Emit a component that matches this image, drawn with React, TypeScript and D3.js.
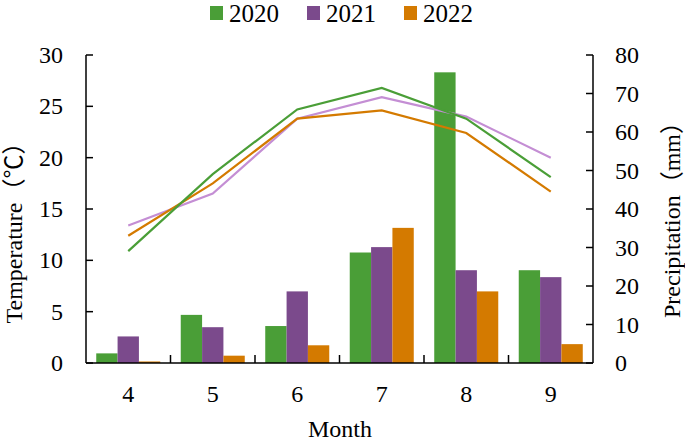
import React from "react";
import * as d3 from "d3";

const months = ["4", "5", "6", "7", "8", "9"];
const years = ["2020", "2021", "2022"];
const precip2020 = [2.5, 12.5, 9.6, 28.7, 75.5, 24.1];
const precip2021 = [6.9, 9.3, 18.6, 30.1, 24.1, 22.3];
const precip2022 = [0.4, 1.9, 4.6, 35.1, 18.6, 4.9];
const temp2020 = [10.9, 18.4, 24.7, 26.8, 23.8, 18.1];
const temp2021 = [13.4, 16.5, 23.8, 25.9, 24.0, 20.0];
const temp2022 = [12.4, 17.5, 23.8, 24.6, 22.4, 16.7];
const tempTicks = [0, 5, 10, 15, 20, 25, 30];
const precipTicks = [0, 10, 20, 30, 40, 50, 60, 70, 80];

const barColors = ["#4a9e37", "#7b4a8c", "#d47a00"];
const lineColors = ["#4a9e37", "#c48ed4", "#d47a00"];

const W = 685;
const H = 443;
const L = 86;
const R = 593;
const T = 55;
const B = 363;
const FONT = "Liberation Serif, Times New Roman, Noto Sans CJK SC, serif";
const ts: React.CSSProperties = { fontFamily: FONT };

export default function App() {
  const x = d3.scaleBand<string>().domain(months).range([L, R]).paddingInner(0).paddingOuter(0);
  const x1 = d3.scaleBand<string>().domain(years).range([0, x.bandwidth()]).paddingInner(0).paddingOuter(0.48);
  const yT = d3.scaleLinear().domain([0, 30]).range([B, T]);
  const yP = d3.scaleLinear().domain([0, 80]).range([B, T]);
  const precip = [precip2020, precip2021, precip2022];
  const temps = [temp2020, temp2021, temp2022];
  const line = d3
    .line<number>()
    .x((_, i) => (x(months[i]) as number) + x.bandwidth() / 2)
    .y((d) => yT(d));

  const legendX = [210, 307, 404];

  return (
    <svg width={W} height={H} style={{ position: "absolute", left: 0, top: 0, background: "#fff", fontFamily: FONT }}>
      {precip.map((series, si) =>
        series.map((v, i) => (
          <rect
            key={`b${si}-${i}`}
            x={(x(months[i]) as number) + (x1(years[si]) as number)}
            y={yP(v)}
            width={x1.bandwidth()}
            height={B - yP(v)}
            fill={barColors[si]}
          />
        ))
      )}
      {[1, 2, 0].map((si) => (
        <path key={`l${si}`} d={line(temps[si]) || ""} fill="none" stroke={lineColors[si]} strokeWidth={2.2} />
      ))}
      <g stroke="#000" strokeWidth={1.5} fill="none">
        <line x1={L} y1={T} x2={L} y2={B} />
        <line x1={R} y1={T} x2={R} y2={B} />
        <line x1={L} y1={B} x2={R} y2={B} />
        {tempTicks.map((t) => (
          <line key={`lt${t}`} x1={L} x2={L + 7} y1={yT(t)} y2={yT(t)} />
        ))}
        {precipTicks.map((t) => (
          <line key={`rt${t}`} x1={R - 7} x2={R} y1={yP(t)} y2={yP(t)} />
        ))}
        {months.slice(1).map((m) => (
          <line key={`xt${m}`} x1={x(m) as number} x2={x(m) as number} y1={B} y2={B - 8} />
        ))}
      </g>
      <g fontSize={24} fill="#000">
        {tempTicks.map((t) => (
          <text key={`ltl${t}`} style={ts} x={63} y={yT(t)} dy="0.34em" textAnchor="end">
            {t}
          </text>
        ))}
        {precipTicks.map((t) => (
          <text key={`rtl${t}`} style={ts} x={615} y={yP(t)} dy="0.34em" textAnchor="start">
            {t}
          </text>
        ))}
        {months.map((m) => (
          <text key={`xl${m}`} style={ts} x={(x(m) as number) + x.bandwidth() / 2} y={402} textAnchor="middle">
            {m}
          </text>
        ))}
      </g>
      <text style={ts} x={340} y={437} fontSize={24} textAnchor="middle">Month</text>
      <text style={ts} transform={`translate(22, ${(T + B) / 2 + 18}) rotate(-90)`} fontSize={24} textAnchor="middle">
        Temperature（℃）
      </text>
      <text style={ts} transform={`translate(680, ${(T + B) / 2 + 5}) rotate(-90)`} fontSize={24} textAnchor="middle">
        Precipitation（mm）
      </text>
      {years.map((yr, i) => (
        <g key={`lg${yr}`}>
          <rect x={legendX[i]} y={6} width={13} height={14} fill={barColors[i]} />
          <text style={ts} x={legendX[i] + 19} y={22} fontSize={25}>
            {yr}
          </text>
        </g>
      ))}
    </svg>
  );
}
